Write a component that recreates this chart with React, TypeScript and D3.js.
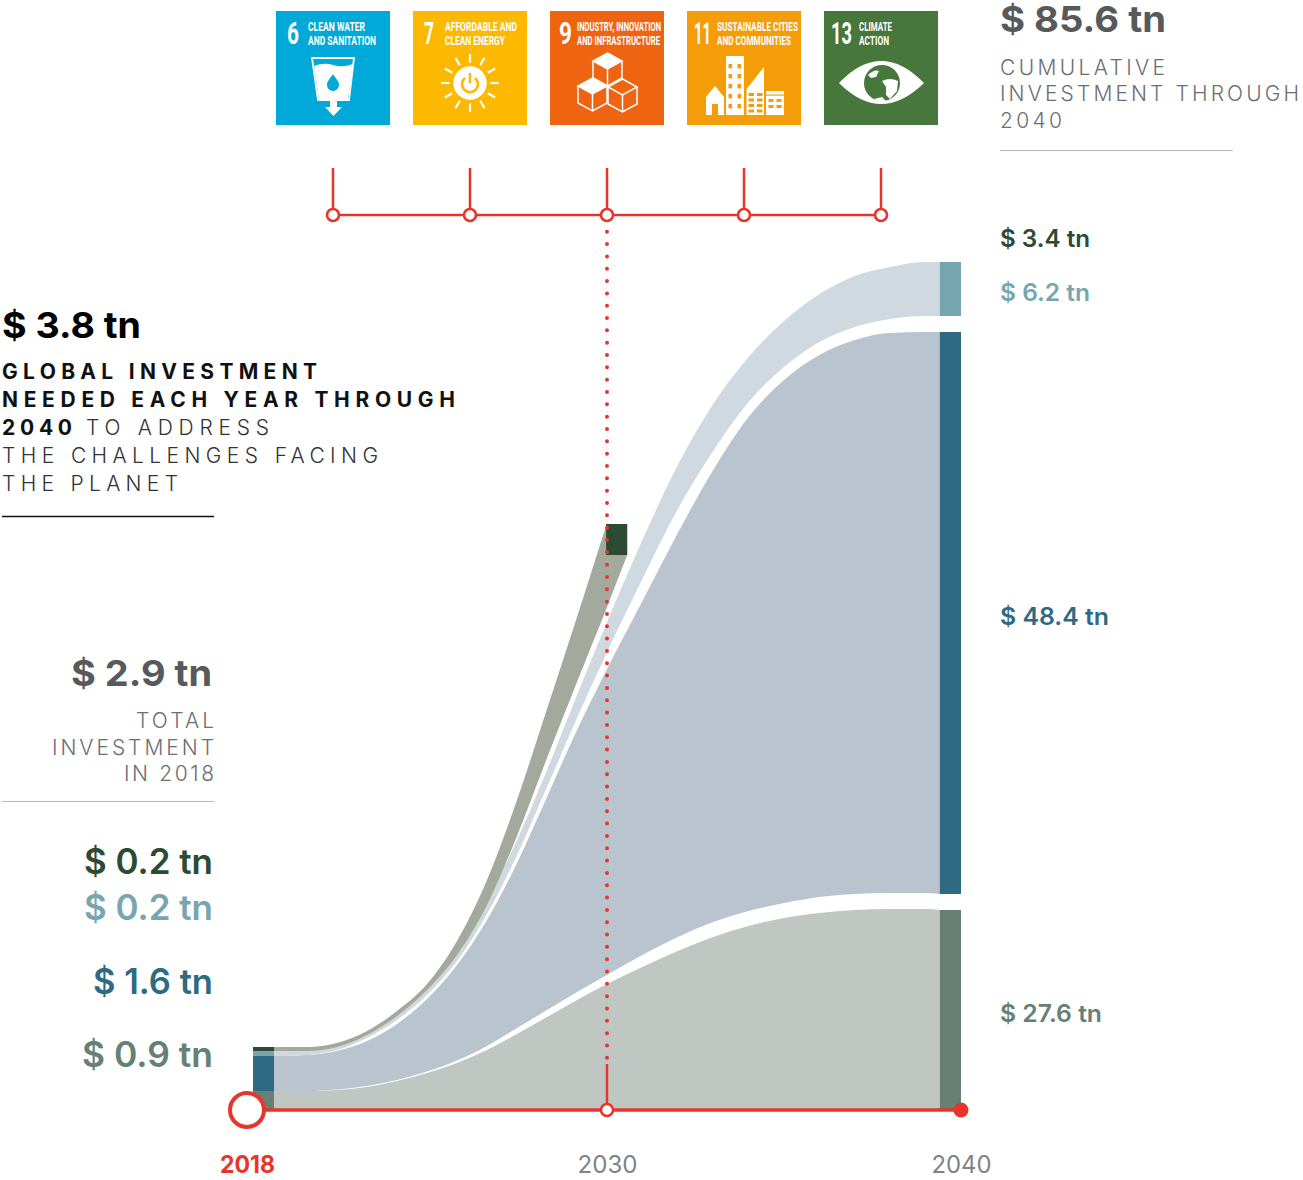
import React, { useEffect, useRef } from 'react';
import * as d3 from 'd3';

// band levels (chart height units, not to value scale)
const bandYears = [2018.9, 2020, 2021, 2022, 2023, 2024, 2025, 2026, 2027, 2028, 2029, 2030, 2031, 2032, 2033, 2034, 2035, 2036, 2037, 2038, 2039, 2039.4];
const level1 = [19, 19, 20, 23, 29, 37, 47, 60, 76, 93, 110, 126, 143, 159, 173, 184, 192, 197, 200, 201, 201, 200];
const level2 = [19, 19, 20.5, 24, 30, 38.5, 49.5, 64, 82, 100, 118, 135, 155, 173, 188, 199, 207, 213, 216, 217, 217, 216];
const level3 = [54, 55, 59, 69, 86, 111, 145, 190, 247, 313, 380, 441, 509, 577, 640, 693, 730, 755, 770, 777, 778, 778];
const level4 = [54, 55, 60, 72, 90, 115, 149, 196, 255, 323, 392, 458, 531, 601, 659, 708, 743, 768, 783, 791, 794, 794];
const level5 = [59, 60, 64, 76, 96, 124, 162, 210, 270, 340, 415, 488, 570, 645, 706, 753, 789, 816, 834, 843, 848, 848];

const wedgeYears = [2018.9, 2020, 2021, 2022, 2023, 2024, 2025, 2026, 2027, 2028, 2029, 2030, 2030.57];
const wedgeLow = [59, 59, 63, 75, 94, 120, 155, 205, 274, 352, 428, 503, 555];
const wedgeHigh = [63, 63, 67, 79, 99, 126, 169, 230, 310, 401, 493, 587, 650];
const blockTop = 586;

const axisYears = [2018, 2030, 2040];
const goals = [6, 7, 9, 11, 13];
const goalTitles = [
  ['CLEAN WATER', 'AND SANITATION'],
  ['AFFORDABLE AND', 'CLEAN ENERGY'],
  ['INDUSTRY, INNOVATION', 'AND INFRASTRUCTURE'],
  ['SUSTAINABLE CITIES', 'AND COMMUNITIES'],
  ['CLIMATE', 'ACTION'],
];
const goalColors = ['#00a9d8', '#fdb900', '#ee6410', '#f59d08', '#48773e'];

const values2040 = [3.4, 6.2, 48.4, 27.6];
const values2018 = [0.2, 0.2, 1.6, 0.9];

const GREEN = '#2d4a33';
const LIGHT = '#78a6b0';
const TEAL = '#2e6b82';
const SAGE = '#668075';
const RED = '#e8352b';
const GREY = '#58595b';
const FONT = 'Inter, "Open Sans", sans-serif';
const NARROW = '"Liberation Sans Narrow", Roboto, sans-serif';

const money = (v: number) => `$ ${v.toFixed(1)} tn`;

const App = () => {
  const svgRef = useRef<SVGSVGElement>(null);

  useEffect(() => {
    const svg = d3.select(svgRef.current);
    svg.selectAll('*').remove();

    const x = d3.scaleLinear().domain([2018, 2030, 2040]).range([247, 607, 961]);
    const y = d3.scaleLinear().domain([0, 848]).range([1110, 262]);
    const goalX = d3.scalePoint<number>().domain(goals).range([333, 881]);

    svg.append('defs').append('clipPath').attr('id', 'wedge-clip')
      .append('rect').attr('x', 0).attr('y', y(blockTop)).attr('width', 1303).attr('height', 1180);

    const ribbon = (years: number[], low: (i: number) => number, high: number[], fill: string) => {
      const area = d3.area<number>()
        .x(d => x(d))
        .y0((d, i) => y(low(i)))
        .y1((d, i) => y(high[i]))
        .curve(d3.curveMonotoneX);
      return svg.append('path').datum(years).attr('fill', fill).attr('d', area);
    };

    ribbon(bandYears, () => 0, level1, '#c0c6c1');
    ribbon(bandYears, i => level2[i], level3, '#b9c4cf');
    ribbon(bandYears, i => level4[i], level5, '#cfd9df');
    ribbon(wedgeYears, i => wedgeLow[i], wedgeHigh, '#a3a99d').attr('clip-path', 'url(#wedge-clip)');

    const bar = (from: number, to: number, low: number, high: number, fill: string) => {
      svg.append('rect')
        .attr('x', x(from))
        .attr('width', x(to) - x(from))
        .attr('y', y(high))
        .attr('height', y(low) - y(high))
        .attr('fill', fill);
    };
    // 2018 stack
    bar(2018.2, 2018.9, wedgeHigh[0] - 4, wedgeHigh[0], GREEN);
    bar(2018.2, 2018.9, level3[0], level5[0], LIGHT);
    bar(2018.2, 2018.9, level1[0], level3[0], TEAL);
    bar(2018.2, 2018.9, 0, level1[0], SAGE);
    // 2030 block
    bar(2029.97, 2030.57, wedgeLow[12], blockTop, GREEN);
    // 2040 stack
    const last = bandYears.length - 1;
    bar(2039.4, 2040, level4[last], level5[last], LIGHT);
    bar(2039.4, 2040, level2[last], level3[last], TEAL);
    bar(2039.4, 2040, 0, level1[last], SAGE);

    // red guide from the goal rail down to the axis
    svg.append('line')
      .attr('x1', x(2030)).attr('x2', x(2030)).attr('y1', 219.4).attr('y2', 1062)
      .attr('stroke', RED).attr('stroke-width', 4).attr('stroke-linecap', 'round')
      .attr('stroke-dasharray', '0 12.33');
    svg.append('line')
      .attr('x1', x(2030)).attr('x2', x(2030)).attr('y1', 1064).attr('y2', 1110)
      .attr('stroke', RED).attr('stroke-width', 2.5);

    // axis
    const axis = d3.axisBottom(x).tickValues(axisYears).tickFormat(d3.format('d')).tickSize(0).tickPadding(0);
    const axisG = svg.append('g').attr('transform', 'translate(0,1109.5)').call(axis);
    axisG.select('.domain').attr('stroke', RED).attr('stroke-width', 3.6);
    axisG.selectAll('text')
      .attr('y', 63.5)
      .attr('dy', 0)
      .attr('font-family', FONT)
      .attr('font-size', 24)
      .attr('font-weight', (d: any) => (d === 2018 ? 700 : 400))
      .attr('fill', (d: any) => (d === 2018 ? RED : '#808285'))
      .attr('textLength', (d: any) => (d === 2018 ? 55 : 60))
      .attr('lengthAdjust', 'spacingAndGlyphs');
    svg.append('circle').attr('cx', x(2018)).attr('cy', 1110).attr('r', 17).attr('fill', '#fff').attr('stroke', RED).attr('stroke-width', 4);
    svg.append('circle').attr('cx', x(2030)).attr('cy', 1110).attr('r', 6).attr('fill', '#fff').attr('stroke', RED).attr('stroke-width', 2.5);
    svg.append('circle').attr('cx', x(2040)).attr('cy', 1110).attr('r', 7.5).attr('fill', RED);

    // goal rail
    svg.append('line')
      .attr('x1', goalX(6)!).attr('x2', goalX(13)!).attr('y1', 215).attr('y2', 215)
      .attr('stroke', RED).attr('stroke-width', 2.6);
    goals.forEach(g => {
      const cx = goalX(g)!;
      svg.append('line').attr('x1', cx).attr('x2', cx).attr('y1', 168).attr('y2', 215).attr('stroke', RED).attr('stroke-width', 2.5);
      svg.append('circle').attr('cx', cx).attr('cy', 215).attr('r', 6).attr('fill', '#fff').attr('stroke', RED).attr('stroke-width', 2.6);
    });

    // goal tiles
    const tileText = [
      { num: [11, 12], title: 32, widths: [57, 68] },
      { num: [11, 10], title: 32, widths: [72, 60] },
      { num: [9, 13], title: 27, widths: [84, 83] },
      { num: [7, 17], title: 30, widths: [81, 74] },
      { num: [7, 21], title: 35, widths: [33, 30] },
    ];
    goals.forEach((g, i) => {
      const t = svg.append('g').attr('transform', `translate(${goalX(g)! - 57},11)`);
      t.append('rect').attr('width', 114).attr('height', 114).attr('fill', goalColors[i]);
      // squeeze the numeral by measured width so its box stays clear of the title
      const num = t.append('text')
        .attr('font-family', NARROW).attr('font-weight', 700).attr('font-size', 31).attr('fill', '#fff')
        .text(g);
      const natural = (num.node() as SVGTextElement).getComputedTextLength();
      num.attr('transform', `translate(${tileText[i].num[0]},32.5) scale(${tileText[i].num[1] / natural},1)`);
      goalTitles[i].forEach((line, j) => {
        t.append('text')
          .attr('x', tileText[i].title).attr('y', 20 + j * 13.7)
          .attr('font-family', NARROW).attr('font-weight', 700).attr('font-size', 12.5).attr('fill', '#fff')
          .attr('textLength', tileText[i].widths[j]).attr('lengthAdjust', 'spacingAndGlyphs')
          .text(line);
      });
      drawIcon(t, g, goalColors[i]);
    });

    // text blocks
    const put = (
      s: string, left: number, base: number, width: number, size: number, weight: number, fill: string,
      adjust: string = 'spacingAndGlyphs',
    ) => {
      svg.append('text')
        .attr('x', left).attr('y', base)
        .attr('font-family', FONT).attr('font-size', size).attr('font-weight', weight).attr('fill', fill)
        .attr('textLength', width).attr('lengthAdjust', adjust)
        .text(s);
    };

    put('$ 85.6 tn', 1000, 32, 166, 36, 700, GREY);
    put('CUMULATIVE', 1000, 75, 165, 21, 300, '#6d6e71', 'spacing');
    put('INVESTMENT THROUGH', 1000, 101, 299, 21, 300, '#6d6e71', 'spacing');
    put('2040', 1000, 128, 62, 21, 300, '#6d6e71', 'spacing');
    const rightColors = [GREEN, LIGHT, TEAL, SAGE];
    const rightLayout = [[247, 90], [301, 90], [625, 109], [1022, 102]];
    values2040.forEach((v, i) => put(money(v), 1000, rightLayout[i][0], rightLayout[i][1], 24, 600, rightColors[i]));

    put('$ 3.8 tn', 2, 338, 139, 36, 700, '#000');
    put('GLOBAL INVESTMENT', 2, 379, 315, 21, 700, '#111', 'spacing');
    put('NEEDED EACH YEAR THROUGH', 2, 407, 453, 21, 700, '#111', 'spacing');
    put('2040', 2, 435, 70, 21, 700, '#111', 'spacing');
    put('TO ADDRESS', 86, 435, 183, 21, 300, '#333', 'spacing');
    put('THE CHALLENGES FACING', 2, 463, 376, 21, 300, '#333', 'spacing');
    put('THE PLANET', 2, 491, 176, 21, 300, '#333', 'spacing');

    put('$ 2.9 tn', 71, 686, 141, 36, 700, GREY);
    put('TOTAL', 136, 728, 78, 21, 300, '#6d6e71', 'spacing');
    put('INVESTMENT', 52, 755, 162, 21, 300, '#6d6e71', 'spacing');
    put('IN 2018', 124, 781, 90, 21, 300, '#6d6e71', 'spacing');
    const leftLayout = [[84, 874, 129], [84, 920, 129], [93, 994, 120], [82, 1067, 131]];
    values2018.forEach((v, i) => put(money(v), leftLayout[i][0], leftLayout[i][1], leftLayout[i][2], 35, 600, rightColors[i]));

    const rule = (x1: number, x2: number, yy: number, c: string, w = 1) =>
      svg.append('line').attr('x1', x1).attr('x2', x2).attr('y1', yy).attr('y2', yy).attr('stroke', c).attr('stroke-width', w);
    rule(1000, 1233, 150.5, '#b9b9b9');
    rule(2, 214, 516.5, '#111', 1.3);
    rule(2, 214, 801.5, '#b9b9b9');
  }, []);

  return (
    <svg
      ref={svgRef}
      width={1303}
      height={1180}
      viewBox="0 0 1303 1180"
      style={{ position: 'absolute', left: 0, top: 0, background: '#fff' }}
      aria-label="Global investment needed through 2040"
    />
  );
};

// white goal pictograms, in tile coordinates
function drawIcon(t: any, goal: number, bg: string) {
  const W = '#fff';
  if (goal === 6) {
    t.append('path').attr('d', 'M36 47H78L73 89H42Z').attr('fill', 'none').attr('stroke', W).attr('stroke-width', 1.8);
    t.append('path').attr('d', 'M38 55Q48 51 57 54T77 53L72 89H43Z').attr('fill', W);
    t.append('path').attr('d', 'M57 63C60 68 63 70 63 74A6 6 0 0 1 51 74C51 70 54 68 57 63Z').attr('fill', bg);
    t.append('path').attr('d', 'M54 89H61V96H66L57.5 105L49 96H54Z').attr('fill', W);
  } else if (goal === 7) {
    const cx = 57, cy = 72;
    d3.range(12).forEach(i => {
      const a = (i * Math.PI) / 6;
      t.append('line')
        .attr('x1', cx + 20.5 * Math.sin(a)).attr('y1', cy - 20.5 * Math.cos(a))
        .attr('x2', cx + 29 * Math.sin(a)).attr('y2', cy - 29 * Math.cos(a))
        .attr('stroke', W).attr('stroke-width', 2.2);
    });
    t.append('circle').attr('cx', cx).attr('cy', cy).attr('r', 16.7).attr('fill', W);
    t.append('path').attr('d', 'M52 67A8 8 0 1 0 62 67').attr('fill', 'none').attr('stroke', bg).attr('stroke-width', 2.6);
    t.append('line').attr('x1', cx).attr('x2', cx).attr('y1', 62).attr('y2', 72).attr('stroke', bg).attr('stroke-width', 2.6);
  } else if (goal === 9) {
    const cube = (ox: number, oy: number, fill: boolean) => {
      const s = 14.5, h = 8;
      t.append('path').attr('d', `M${ox} ${oy}L${ox + s} ${oy + h}L${ox} ${oy + 2 * h}L${ox - s} ${oy + h}Z`)
        .attr('fill', fill ? W : 'none').attr('stroke', W).attr('stroke-width', 1.5);
      t.append('path').attr('d', `M${ox - s} ${oy + h}V${oy + h + 17}L${ox} ${oy + 2 * h + 17}L${ox + s} ${oy + h + 17}V${oy + h}M${ox} ${oy + 2 * h}V${oy + 2 * h + 17}`)
        .attr('fill', 'none').attr('stroke', W).attr('stroke-width', 1.5);
    };
    cube(57.5, 42, true);
    cube(42.5, 67, true);
    cube(72.5, 68, false);
  } else if (goal === 11) {
    t.append('path').attr('d', 'M19 86L28 75L37 86V104H31V93H25V104H19Z').attr('fill', W);
    t.append('rect').attr('x', 39).attr('y', 45).attr('width', 18).attr('height', 59).attr('fill', W);
    d3.range(5).forEach(r => [41.5, 50.5].forEach(wx => {
      t.append('rect').attr('x', wx).attr('y', 53 + r * 10).attr('width', 3.6).attr('height', 4.4).attr('fill', bg);
    }));
    t.append('path').attr('d', 'M59.5 78L77 56V104H59.5Z').attr('fill', W);
    d3.range(4).forEach(r => [61.5, 70].forEach(wx => {
      t.append('rect').attr('x', wx).attr('y', 82 + r * 5.5).attr('width', 5.5).attr('height', 3).attr('fill', bg);
    }));
    t.append('rect').attr('x', 79).attr('y', 80).attr('width', 18).attr('height', 24).attr('fill', W);
    t.append('rect').attr('x', 79).attr('y', 83.5).attr('width', 18).attr('height', 1.2).attr('fill', bg);
    d3.range(2).forEach(r => [81.5, 89.5].forEach(wx => {
      t.append('rect').attr('x', wx).attr('y', 88 + r * 6).attr('width', 5).attr('height', 3).attr('fill', bg);
    }));
  } else {
    t.append('path').attr('d', 'M15 72Q57 28 100 72Q57 114 15 72Z').attr('fill', W);
    t.append('circle').attr('cx', 58).attr('cy', 72).attr('r', 18).attr('fill', bg);
    t.append('path').attr('d', 'M44 64Q50 58 55 60L52 66L47 67ZM58 70Q66 66 74 70L73 80L66 88L62 84L62 76ZM50 88L58 86L62 90L54 90Z').attr('fill', W);
  }
}

export default App;
